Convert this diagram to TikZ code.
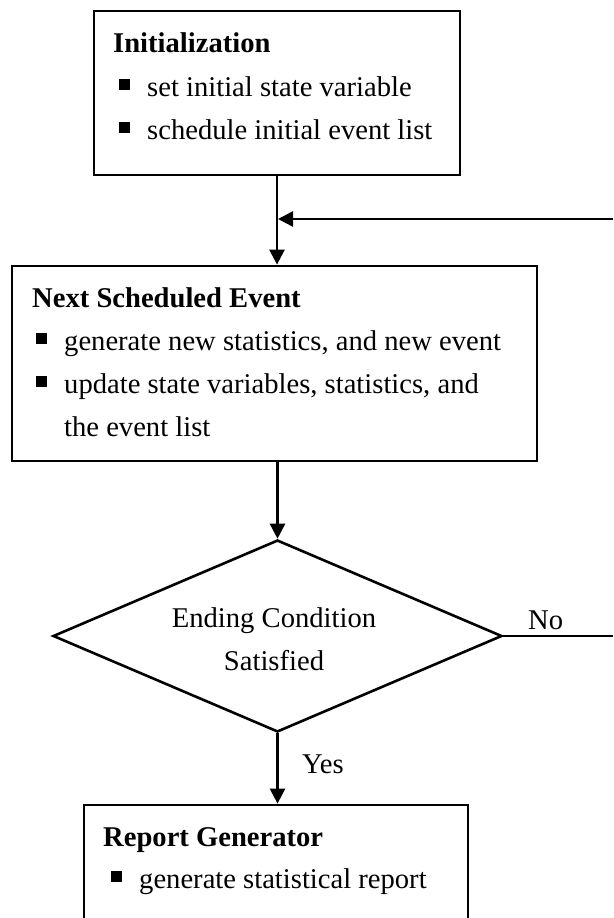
\documentclass[tikz,border=0pt]{standalone}
\usepackage{fontspec}
\setmainfont{Liberation Serif}
\usetikzlibrary{arrows.meta,positioning,shapes.geometric}

\newcommand{\bsq}{\rule[0.2em]{0.38em}{0.38em}\hspace{0.6em}}

\tikzset{
  box/.style={draw, line width=2.8pt, inner sep=0pt},
  txt/.style={anchor=base west, inner sep=0pt, font=\fontsize{28.6}{43}\selectfont},
  head/.style={txt, font=\fontsize{28.6}{43}\selectfont\bfseries},
  flow/.style={line width=2.5pt, -{Triangle[length=15pt,width=15pt]}},
  wire/.style={line width=2.5pt},
}

\begin{document}
\begin{tikzpicture}[x=1pt,y=-1pt]
  \useasboundingbox (0,0) rectangle (613,918);
  % boxes and decision
  \node[box, minimum width=366pt, minimum height=164pt] (init) at (277,93) {};
  \node[box, minimum width=525pt, minimum height=195pt] (next) at (274.5,363.5) {};
  \node[diamond, draw, line width=2.6pt, inner sep=0pt,
        minimum width=449pt, minimum height=192pt] (cond) at (277.5,636) {};
  \node[box, minimum width=384pt, minimum height=160pt] (report) at (276,885) {};

  % texts
  \node[head] (initT) at (113,52) {Initialization};
  \node[txt] (initA) at (119,96) {\bsq set initial state variable};
  \node[txt] (initB) at (119,139) {\bsq schedule initial event list};

  \node[head] (nextT) at (32,307) {Next Scheduled Event};
  \node[txt] (nextA) at (36,350) {\bsq generate new statistics, and new event};
  \node[txt] (nextB) at (36,393) {\bsq update state variables, statistics, and};
  \node[txt] (nextC) at (64,436) {the event list};

  \node[txt, anchor=base] (condA) at (274,627) {Ending Condition};
  \node[txt, anchor=base] (condB) at (274,670) {Satisfied};

  \node[head] (reportT) at (103,846) {Report Generator};
  \node[txt] (reportA) at (111,888) {\bsq generate statistical report};

  \node[txt] (no) at (528,629) {No};
  \node[txt] (yes) at (302,773) {Yes};

  % connectors
  \coordinate (loopIn) at (613,219);
  \coordinate (loopOut) at (613,637);
  \draw[flow] (init.south) -- (init.south |- next.north);
  \draw[flow] (loopIn) -- ([xshift=1pt]loopIn -| init.south);
  \draw[flow] (cond.north |- next.south) -- (cond.north);
  \draw[flow] (cond.south) -- (cond.south |- report.north);
  \draw[wire] (cond.east) -- (loopOut |- cond.east);
\end{tikzpicture}
\end{document}
